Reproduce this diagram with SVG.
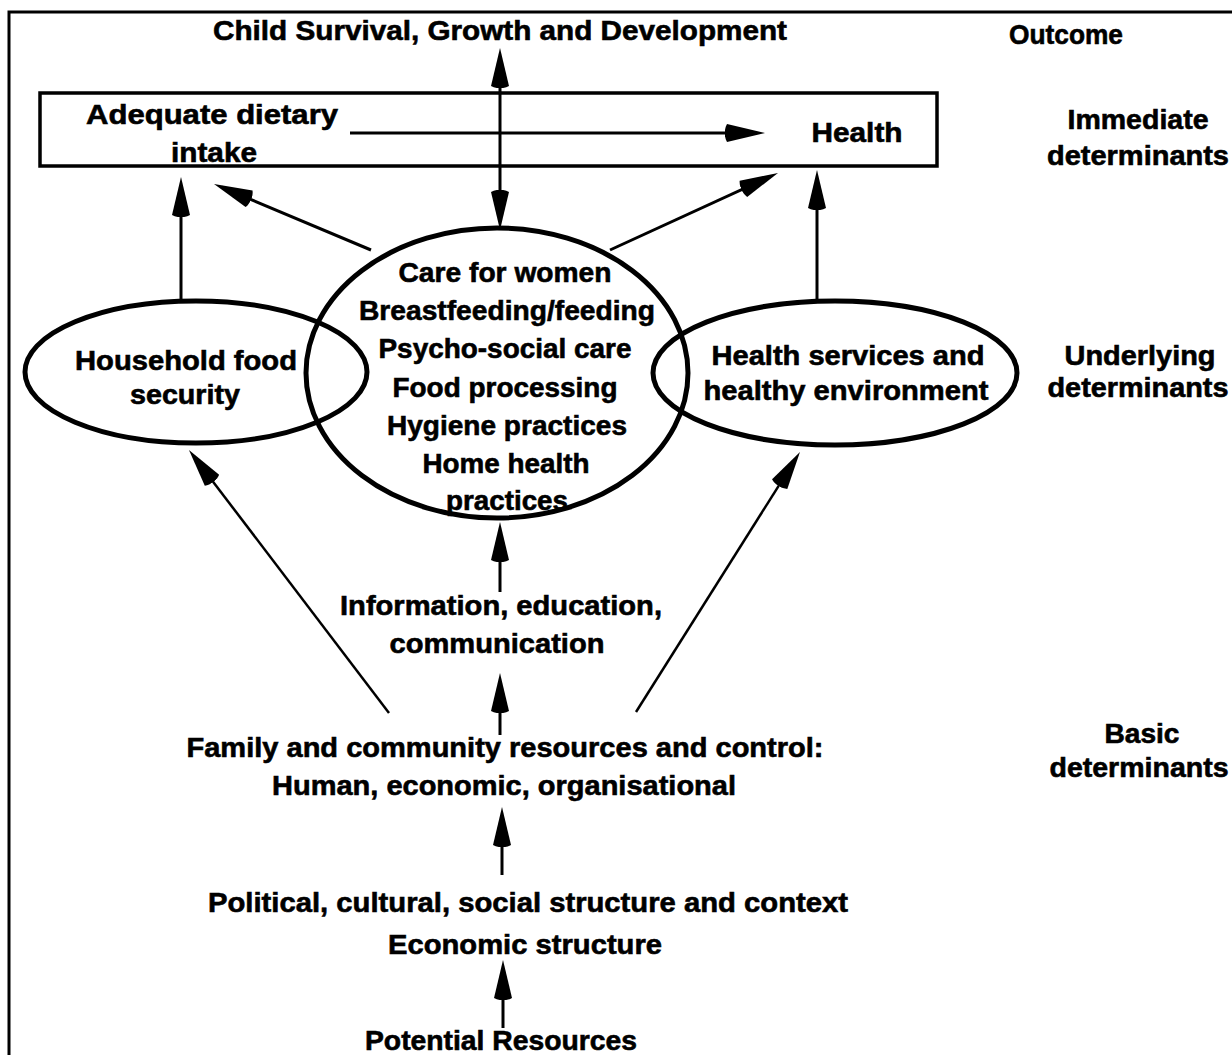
<svg xmlns="http://www.w3.org/2000/svg" width="1232" height="1055" viewBox="0 0 1232 1055">
<defs>
<style>
text{font-family:"Liberation Sans",Arial,Helvetica,sans-serif;font-weight:bold;font-size:28px;fill:#000;stroke:#000;stroke-width:0.6;text-anchor:middle}
.sh{fill:none;stroke:#000;stroke-width:5}
.c{fill:none;stroke:#000;stroke-width:3}
.thin{fill:none;stroke:#000;stroke-width:2.5}
</style>
<marker id="ah" viewBox="0 0 40 20" markerWidth="40" markerHeight="20" markerUnits="userSpaceOnUse" refX="32" refY="10" orient="auto-start-reverse">
<path d="M2,1 C-1,6 -1,14 2,19 L40,10 Z" fill="#000"/>
</marker>
</defs>
<rect width="1232" height="1055" fill="#fff"/>
<path d="M9,1058 V12 H1235" fill="none" stroke="#000" stroke-width="3"/>

<g id="outcome">
<text x="500" y="40" textLength="574" lengthAdjust="spacingAndGlyphs">Child Survival, Growth and Development</text>
</g>
<g id="immediate">
<rect x="40" y="93" width="897" height="73" fill="none" stroke="#000" stroke-width="3.5"/>
<text x="212" y="124" textLength="252" lengthAdjust="spacingAndGlyphs">Adequate dietary</text>
<text x="214" y="162" textLength="86" lengthAdjust="spacingAndGlyphs">intake</text>
<text x="857" y="142" textLength="91" lengthAdjust="spacingAndGlyphs">Health</text>
</g>
<g id="household-food">
<ellipse class="sh" cx="196" cy="372" rx="171" ry="71"/>
<text x="186" y="370" textLength="222" lengthAdjust="spacingAndGlyphs">Household food</text>
<text x="185" y="404" textLength="110" lengthAdjust="spacingAndGlyphs">security</text>
</g>
<g id="care">
<ellipse class="sh" cx="497" cy="373" rx="191" ry="145"/>
<text x="505" y="282" textLength="213" lengthAdjust="spacingAndGlyphs">Care for women</text>
<text x="507" y="320" textLength="296" lengthAdjust="spacingAndGlyphs">Breastfeeding/feeding</text>
<text x="505" y="358" textLength="253" lengthAdjust="spacingAndGlyphs">Psycho-social care</text>
<text x="505" y="397" textLength="225" lengthAdjust="spacingAndGlyphs">Food processing</text>
<text x="507" y="435" textLength="240" lengthAdjust="spacingAndGlyphs">Hygiene practices</text>
<text x="506" y="473" textLength="167" lengthAdjust="spacingAndGlyphs">Home health</text>
<text x="507" y="510" textLength="122" lengthAdjust="spacingAndGlyphs">practices</text>
</g>
<g id="health-services">
<ellipse class="sh" cx="835" cy="373" rx="182" ry="72"/>
<text x="848" y="365" textLength="273" lengthAdjust="spacingAndGlyphs">Health services and</text>
<text x="846" y="400" textLength="285" lengthAdjust="spacingAndGlyphs">healthy environment</text>
</g>
<g id="iec">
<text x="501" y="615" textLength="322" lengthAdjust="spacingAndGlyphs">Information, education,</text>
<text x="497" y="653" textLength="215" lengthAdjust="spacingAndGlyphs">communication</text>
</g>
<g id="family-resources">
<text x="505" y="757" textLength="637" lengthAdjust="spacingAndGlyphs">Family and community resources and control:</text>
<text x="504" y="795" textLength="464" lengthAdjust="spacingAndGlyphs">Human, economic, organisational</text>
</g>
<g id="structure">
<text x="528" y="912" textLength="640" lengthAdjust="spacingAndGlyphs">Political, cultural, social structure and context</text>
<text x="525" y="954" textLength="274" lengthAdjust="spacingAndGlyphs">Economic structure</text>
</g>
<g id="potential-resources">
<text x="501" y="1050" textLength="272" lengthAdjust="spacingAndGlyphs">Potential Resources</text>
</g>
<g id="level-labels">
<text x="1066" y="44" textLength="114" lengthAdjust="spacingAndGlyphs">Outcome</text>
<text x="1138" y="129" textLength="141" lengthAdjust="spacingAndGlyphs">Immediate</text>
<text x="1138" y="165" textLength="182" lengthAdjust="spacingAndGlyphs">determinants</text>
<text x="1140" y="365" textLength="151" lengthAdjust="spacingAndGlyphs">Underlying</text>
<text x="1138" y="397" textLength="181" lengthAdjust="spacingAndGlyphs">determinants</text>
<text x="1142" y="743" textLength="75" lengthAdjust="spacingAndGlyphs">Basic</text>
<text x="1139" y="777" textLength="179" lengthAdjust="spacingAndGlyphs">determinants</text>
</g>

<g id="connectors">
<line class="c" x1="500" y1="56" x2="500" y2="222" marker-start="url(#ah)" marker-end="url(#ah)"/>
<line class="c" x1="350" y1="133" x2="757" y2="133" marker-end="url(#ah)"/>
<line class="c" x1="181" y1="300" x2="181" y2="185" marker-end="url(#ah)"/>
<line class="c" x1="817" y1="301" x2="817" y2="178" marker-end="url(#ah)"/>
<line class="c" x1="371" y1="250" x2="221.4" y2="187.1" marker-end="url(#ah)"/>
<line class="c" x1="610" y1="250" x2="770.7" y2="176.3" marker-end="url(#ah)"/>
<line class="thin" x1="389" y1="713" x2="193.8" y2="456.4" marker-end="url(#ah)"/>
<line class="thin" x1="636" y1="712" x2="795.7" y2="458.8" marker-end="url(#ah)"/>
<line class="c" x1="500" y1="592" x2="500" y2="530" marker-end="url(#ah)"/>
<line class="c" x1="500" y1="735" x2="500" y2="681" marker-end="url(#ah)"/>
<line class="c" x1="502" y1="875" x2="502" y2="815" marker-end="url(#ah)"/>
<line class="c" x1="503" y1="1028" x2="503" y2="968" marker-end="url(#ah)"/>
</g>
</svg>
